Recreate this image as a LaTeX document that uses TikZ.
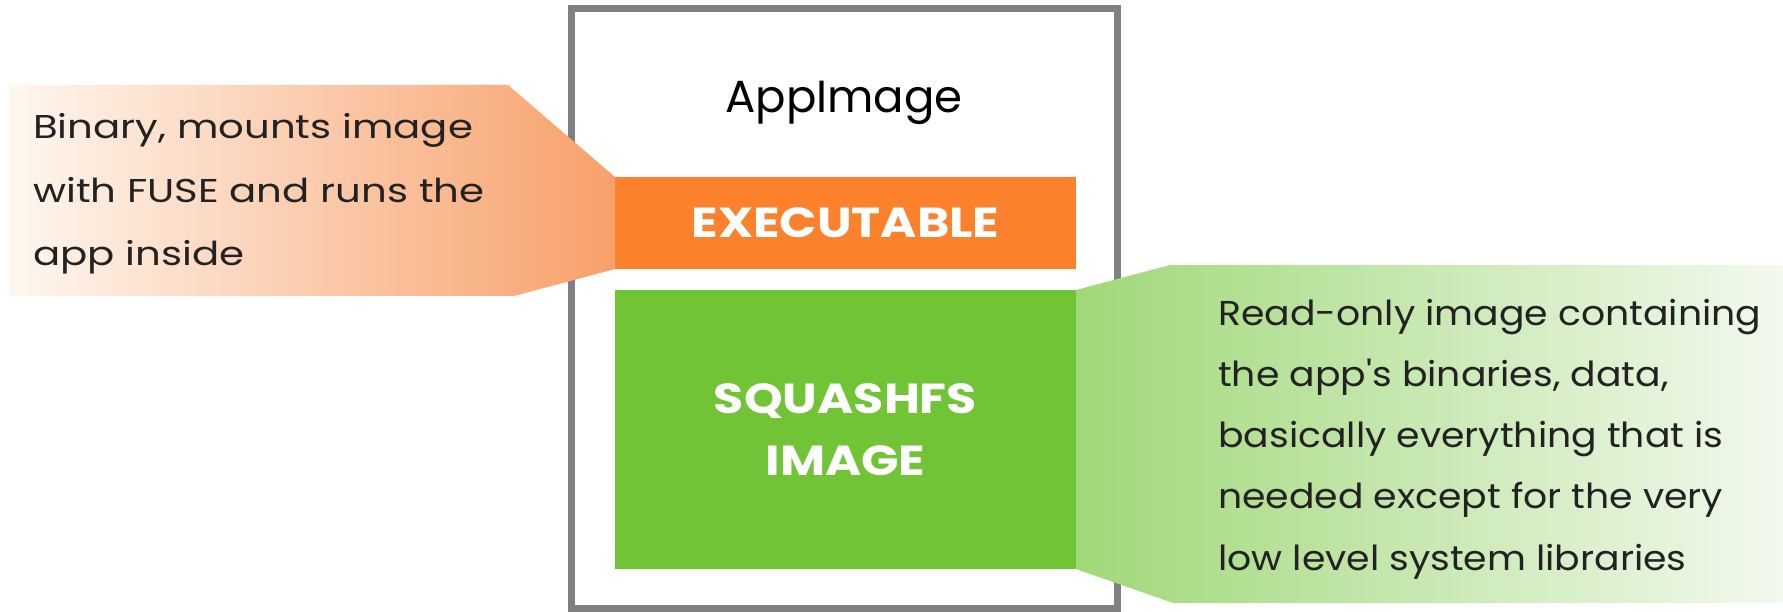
\documentclass[tikz,border=0pt]{standalone}
\usepackage{fontspec}
\setmainfont{Poppins}
\newfontfamily\calloutLfont[FakeStretch=1.22]{Poppins}
\newfontfamily\calloutRfont[FakeStretch=1.095]{Poppins}
\newfontfamily\blockfont[FakeStretch=1.17]{Poppins}
\definecolor{boxgray}{RGB}{128,128,128}
\definecolor{exeorange}{RGB}{252,129,44}
\definecolor{sqgreen}{RGB}{113,196,53}
\definecolor{peachL}{RGB}{254,247,240}
\definecolor{peachR}{RGB}{248,160,106}
\definecolor{lgreenL}{RGB}{160,216,120}
\definecolor{lgreenR}{RGB}{242,249,238}
\definecolor{txt}{RGB}{34,34,34}
\tikzset{
  block/.style={inner sep=0pt, outer sep=0pt, text=white, font=\blockfont\fontsize{42}{62}\selectfont\bfseries, align=center},
  calltext/.style={inner sep=0pt, text=txt, align=left, anchor=base west},
}
\begin{document}
\begin{tikzpicture}[x=1pt,y=-1pt]
\useasboundingbox (0,0) rectangle (1783,612);
\node[draw=boxgray, line width=7pt, inner sep=0pt, outer sep=0pt, minimum width=546pt, minimum height=599pt] (app) at (844,308.5) {};
\node[block, fill=exeorange, minimum width=461pt, minimum height=92pt] (exe) at (845.5,223) {EXECUTABLE};
\node[block, fill=sqgreen, minimum width=461pt, minimum height=279pt] (sq) at (845.5,429.5) {SQUASHFS\\IMAGE};
% callouts
\path[left color=peachL, right color=peachR] (9,85) -- (508,85) -- (exe.north west) -- (exe.south west) -- (514,296) -- (9,296) -- cycle;
\path[left color=lgreenL, right color=lgreenR] (sq.north east) -- (1170,265) -- (1783,265) -- (1783,603) -- (1173,603) -- (sq.south east) -- cycle;
\node[inner sep=0pt, text=black, font=\fontsize{45}{50}\selectfont, anchor=base] (title) at (844,113) {AppImage};
\node[calltext, font=\calloutLfont\fontsize{33}{63.5}\selectfont] (lefttext) at (33,266) {Binary, mounts image\\with FUSE and runs the\\app inside};
\node[calltext, font=\calloutRfont\fontsize{34.5}{61.25}\selectfont] (righttext) at (1218,570) {Read-only image containing\\the app's binaries, data,\\basically everything that is\\needed except for the very\\low level system libraries};
\end{tikzpicture}
\end{document}
